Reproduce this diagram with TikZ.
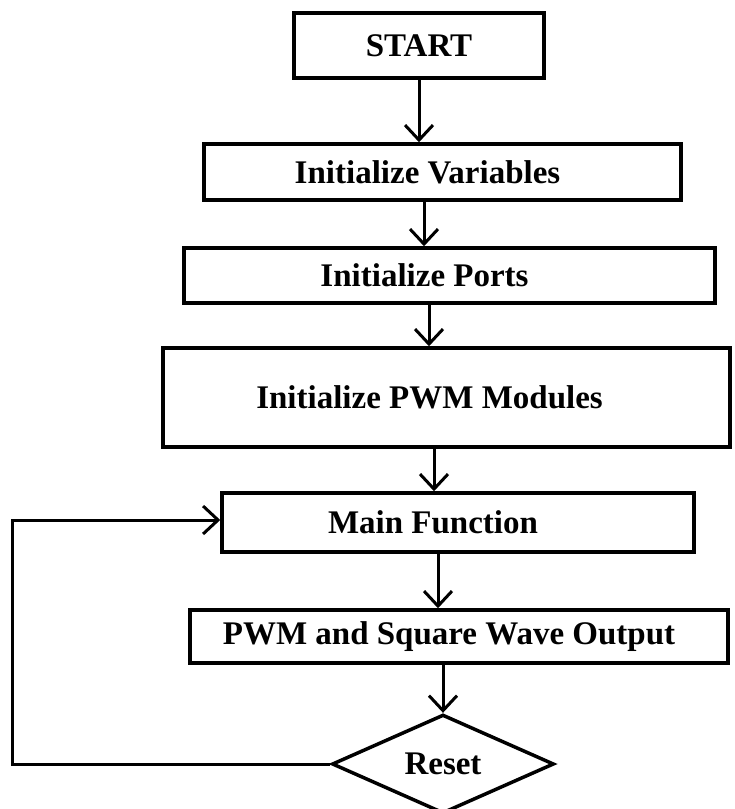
\documentclass[tikz,border=0pt]{standalone}
\usepackage{fontspec}
\setmainfont{Liberation Serif}
\usetikzlibrary{arrows.meta,shapes.geometric}
\begin{document}
\begin{tikzpicture}[x=1pt,y=-1pt,
  box/.style={draw=black,line width=3.5pt,rectangle,inner sep=0pt,fill=white,
    font=\bfseries\fontsize{33}{38}\selectfont},
  dia/.style={draw=black,line width=3.5pt,diamond,inner sep=0pt,fill=white,
    font=\bfseries\fontsize{33}{38}\selectfont},
  arr/.style={draw=black,line width=3pt,-{Straight Barb[length=15pt,width=28pt]}},
  conn/.style={draw=black,line width=3pt}]
\useasboundingbox (0,0) rectangle (734,809);
\fill[white] (0,0) rectangle (734,809);
\node[box,minimum width=250pt,minimum height=65pt] (start) at (419,45.5) {START};
\node[box,minimum width=477pt,minimum height=56pt] (iv) at (442.5,172) {Initialize Variables\hspace*{30pt}};
\node[box,minimum width=531pt,minimum height=55pt] (ports) at (449.5,275.5) {Initialize Ports\hspace*{50pt}};
\node[box,minimum width=567pt,minimum height=99pt] (pwmm) at (446.5,397.5) {Initialize PWM Modules\hspace*{34pt}};
\node[box,minimum width=472pt,minimum height=59pt] (main) at (458,522.5) {Main Function\hspace*{50pt}};
\node[box,minimum width=538pt,minimum height=53pt] (out) at (459,636.5) {PWM and Square Wave Output\hspace*{20pt}};
\node[dia,minimum width=222pt,minimum height=88pt] (reset) at (443,764) {Reset};
\coordinate (a1) at (419,0);
\coordinate (a2) at (424,0);
\coordinate (a3) at (429,0);
\coordinate (a4) at (434,0);
\coordinate (a5) at (438,0);
\coordinate (a6) at (443,0);
\coordinate (fb) at (12,0);
\draw[arr] (start.south -| a1) -- (iv.north -| a1);
\draw[arr] (iv.south -| a2) -- (ports.north -| a2);
\draw[arr] (ports.south -| a3) -- (pwmm.north -| a3);
\draw[arr] (pwmm.south -| a4) -- (main.north -| a4);
\draw[arr] (main.south -| a5) -- (out.north -| a5);
\draw[arr] (out.south -| a6) -- (reset.north);
\coordinate (fbl) at (12,520);
\draw[arr] (reset.west) -- (reset.west -| fb) -- (fbl) -- (main.west |- fbl);
\end{tikzpicture}
\end{document}
